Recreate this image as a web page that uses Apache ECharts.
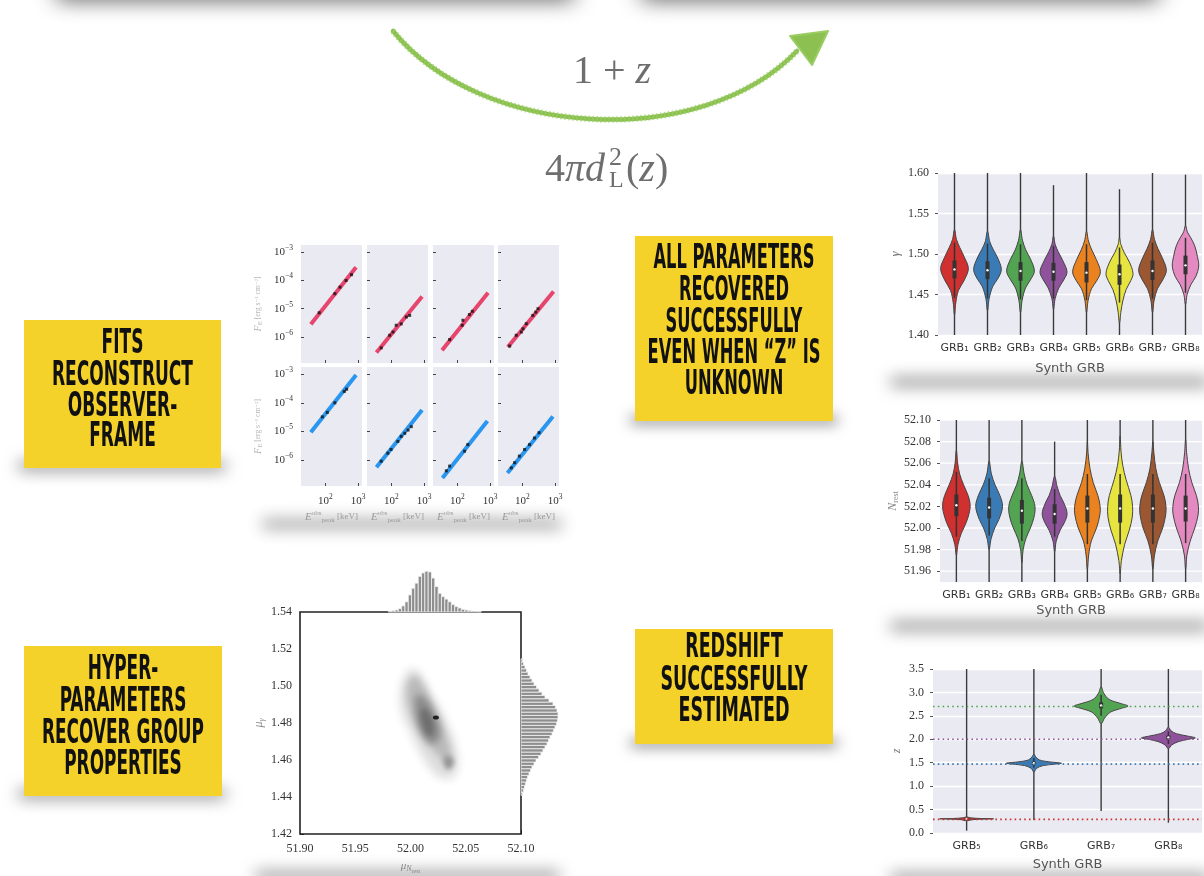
<!DOCTYPE html>
<html>
<head>
<meta charset="utf-8">
<script src="https://cdn.jsdelivr.net/npm/echarts@6/dist/echarts.min.js"></script>
<style>
html, body { margin: 0; padding: 0; background: #ffffff; }
#main { width: 1204px; height: 876px; }
</style>
</head>
<body>
<div id="main"></div>
<script>
// ---------------- data ----------------
// Observer-frame fits: fitted power law end points [E_peak (keV), F_E] per burst
const fitLines = [
  [[36, 2.8e-6], [870, 2.95e-4]],
  [[35, 2.8e-7], [870, 2.7e-5]],
  [[34, 3.4e-7], [870, 3.7e-5]],
  [[36, 4.4e-7], [900, 4.1e-5]],
  [[36, 9.3e-6], [870, 9.5e-4]],
  [[35, 5.5e-7], [870, 5.6e-5]],
  [[35, 2.3e-7], [830, 2.3e-5]],
  [[35, 3.4e-7], [860, 3.3e-5]]
];
// Observed pulses [E_peak (keV), F_E]
const fitPoints = [
  [[65, 7.2e-6], [195, 3.4e-5], [280, 5.8e-5], [430, 1.0e-4], [630, 1.6e-4]],
  [[49, 4.1e-7], [89, 1.15e-6], [112, 1.5e-6], [141, 2.6e-6], [200, 2.9e-6], [288, 5.1e-6], [363, 5.8e-6]],
  [[58, 8.1e-7], [141, 2.6e-6], [148, 3.9e-6], [234, 6.2e-6], [288, 8.1e-6]],
  [[41, 4.8e-7], [65, 1.15e-6], [93, 1.5e-6], [105, 1.95e-6], [132, 2.95e-6], [209, 5.8e-6], [257, 7.6e-6], [302, 1.0e-5]],
  [[81, 3.2e-5], [115, 4.6e-5], [195, 1.0e-4], [380, 2.5e-4], [447, 3.0e-4]],
  [[49, 8.9e-7], [78, 1.7e-6], [98, 2.3e-6], [158, 4.4e-6], [200, 6.6e-6], [257, 8.5e-6], [324, 1.1e-5], [407, 1.45e-5]],
  [[46, 4.1e-7], [58, 6.0e-7], [166, 2.0e-6], [209, 3.4e-6]],
  [[46, 5.2e-7], [58, 7.9e-7], [81, 1.35e-6], [117, 2.3e-6], [166, 3.4e-6], [234, 5.8e-6], [324, 8.9e-6]]
];
const fitXTicks = [100, 1000];
const fitYTicks = [1e-6, 1e-5, 1e-4, 1e-3];

// Posterior violins: categories
const grbNames = ['GRB\u2081', 'GRB\u2082', 'GRB\u2083', 'GRB\u2084', 'GRB\u2085', 'GRB\u2086', 'GRB\u2087', 'GRB\u2088'];
const zNames = ['GRB\u2085', 'GRB\u2086', 'GRB\u2087', 'GRB\u2088'];

// violin outlines: [value, half width as fraction of the category band]
const gammaKnots = [
  [[1.425,0],[1.44,0.04],[1.455,0.12],[1.468,0.30],[1.482,0.42],[1.496,0.30],[1.508,0.16],[1.518,0.06],[1.53,0]],
  [[1.43,0],[1.445,0.05],[1.46,0.16],[1.47,0.32],[1.481,0.42],[1.495,0.31],[1.505,0.18],[1.515,0.07],[1.528,0]],
  [[1.428,0],[1.443,0.05],[1.458,0.15],[1.468,0.30],[1.479,0.42],[1.494,0.30],[1.505,0.16],[1.517,0.06],[1.53,0]],
  [[1.432,0],[1.445,0.05],[1.458,0.16],[1.468,0.31],[1.478,0.41],[1.492,0.28],[1.503,0.14],[1.512,0.05],[1.522,0]],
  [[1.428,0],[1.443,0.05],[1.457,0.15],[1.467,0.31],[1.478,0.42],[1.493,0.30],[1.505,0.16],[1.516,0.06],[1.528,0]],
  [[1.415,0],[1.428,0.04],[1.442,0.10],[1.456,0.20],[1.467,0.34],[1.476,0.41],[1.49,0.30],[1.502,0.14],[1.512,0.04],[1.52,0]],
  [[1.428,0],[1.443,0.05],[1.457,0.15],[1.468,0.31],[1.48,0.42],[1.495,0.30],[1.507,0.16],[1.518,0.06],[1.53,0]],
  [[1.438,0],[1.45,0.05],[1.462,0.16],[1.472,0.31],[1.485,0.40],[1.497,0.36],[1.51,0.28],[1.52,0.16],[1.527,0.06],[1.535,0]]
];
// [min, whisker low, q1, median, q3, whisker high, max]
const gammaStats = [
  [1.40, 1.446, 1.470, 1.481, 1.492, 1.514, 1.60],
  [1.40, 1.445, 1.469, 1.480, 1.491, 1.513, 1.60],
  [1.40, 1.444, 1.467, 1.479, 1.490, 1.512, 1.60],
  [1.40, 1.445, 1.467, 1.478, 1.489, 1.510, 1.585],
  [1.40, 1.443, 1.465, 1.477, 1.490, 1.512, 1.60],
  [1.40, 1.440, 1.462, 1.475, 1.487, 1.508, 1.58],
  [1.40, 1.445, 1.468, 1.479, 1.492, 1.514, 1.60],
  [1.40, 1.452, 1.475, 1.486, 1.498, 1.520, 1.598]
];

const nrestKnots = [
  [[51.975,0],[51.985,0.05],[51.995,0.15],[52.005,0.30],[52.015,0.40],[52.022,0.42],[52.03,0.36],[52.04,0.22],[52.05,0.10],[52.06,0.04],[52.072,0]],
  [[51.98,0],[51.99,0.06],[52.0,0.17],[52.008,0.30],[52.02,0.41],[52.03,0.33],[52.04,0.18],[52.05,0.07],[52.062,0]],
  [[51.968,0],[51.98,0.04],[51.99,0.12],[52.0,0.26],[52.01,0.37],[52.02,0.40],[52.03,0.30],[52.04,0.16],[52.05,0.07],[52.062,0]],
  [[51.978,0],[51.988,0.05],[51.998,0.17],[52.005,0.30],[52.013,0.38],[52.022,0.30],[52.03,0.17],[52.038,0.08],[52.048,0]],
  [[51.962,0],[51.975,0.04],[51.988,0.12],[52.0,0.28],[52.012,0.38],[52.02,0.39],[52.03,0.32],[52.042,0.18],[52.055,0.08],[52.07,0.02],[52.08,0]],
  [[51.958,0],[51.97,0.04],[51.985,0.14],[51.998,0.28],[52.01,0.37],[52.02,0.38],[52.03,0.33],[52.045,0.18],[52.058,0.08],[52.07,0.03],[52.085,0]],
  [[51.962,0],[51.975,0.05],[51.988,0.15],[52.0,0.30],[52.012,0.39],[52.02,0.40],[52.03,0.34],[52.042,0.20],[52.055,0.09],[52.07,0.03],[52.08,0]],
  [[51.962,0],[51.975,0.04],[51.988,0.14],[52.0,0.28],[52.012,0.38],[52.02,0.39],[52.03,0.33],[52.042,0.19],[52.055,0.09],[52.07,0.03],[52.082,0]]
];
const nrestStats = [
  [51.95, 51.992, 52.011, 52.021, 52.031, 52.052, 52.10],
  [51.95, 51.993, 52.009, 52.019, 52.028, 52.046, 52.10],
  [51.95, 51.988, 52.004, 52.016, 52.026, 52.046, 52.10],
  [51.95, 51.992, 52.004, 52.013, 52.022, 52.036, 52.08],
  [51.95, 51.985, 52.005, 52.018, 52.030, 52.050, 52.10],
  [51.95, 51.985, 52.005, 52.018, 52.031, 52.050, 52.10],
  [51.95, 51.985, 52.005, 52.018, 52.031, 52.050, 52.10],
  [51.95, 51.986, 52.006, 52.018, 52.030, 52.050, 52.10]
];
const nrestTicks = [51.96, 51.98, 52.00, 52.02, 52.04, 52.06, 52.08, 52.10];

const zKnots = [
  [[0.26,0],[0.285,0.08],[0.298,0.30],[0.303,0.40],[0.31,0.20],[0.325,0.05],[0.345,0]],
  [[1.30,0],[1.38,0.04],[1.44,0.14],[1.47,0.32],[1.49,0.41],[1.52,0.22],[1.56,0.08],[1.62,0.03],[1.68,0]],
  [[2.33,0],[2.45,0.05],[2.58,0.14],[2.66,0.30],[2.71,0.40],[2.76,0.30],[2.85,0.12],[2.98,0.04],[3.12,0]],
  [[1.80,0],[1.88,0.05],[1.95,0.15],[2.0,0.30],[2.03,0.40],[2.07,0.28],[2.12,0.12],[2.18,0.04],[2.26,0]]
];
const zStats = [
  [0.05, 0.28, 0.295, 0.30, 0.31, 0.33, 3.5],
  [0.28, 1.40, 1.46, 1.49, 1.52, 1.60, 3.5],
  [0.47, 2.50, 2.66, 2.72, 2.79, 2.95, 3.5],
  [0.22, 1.90, 2.00, 2.04, 2.08, 2.17, 3.5]
];
const zTrue = [0.29, 1.47, 2.70, 2.00];

// Hyper-parameter posterior: density contour outlines [mu_N, mu_gamma], light to dark
const hexContours = [
  [[51.9967,1.5076],[52.0057,1.5085],[52.0178,1.4968],[52.0314,1.4823],[52.0419,1.4643],[52.0404,1.4517],[52.0299,1.4499],[52.0178,1.4553],[51.9997,1.4751],[51.9906,1.4913]],
  [[52.0012,1.5049],[52.0072,1.5040],[52.0208,1.4895],[52.0299,1.4769],[52.0374,1.4607],[52.0344,1.4571],[52.0253,1.4625],[52.0117,1.4715],[52.0012,1.4841],[51.9966,1.4968]],
  [[52.0057,1.4950],[52.0133,1.4932],[52.0223,1.4841],[52.0268,1.4751],[52.0238,1.4697],[52.0163,1.4697],[52.0072,1.4787],[52.0042,1.4877]],
  [[52.0102,1.4877],[52.0163,1.4859],[52.0208,1.4787],[52.0193,1.4733],[52.0148,1.4742],[52.0102,1.4805]],
  [[52.031,1.4615],[52.037,1.4615],[52.0385,1.4575],[52.0335,1.4550],[52.0305,1.4580]]
];
const trueHyper = [52.023, 1.483];
// marginal histograms
const topHistStart = 51.980, topHistWidth = 0.003;
const topHistCounts = [18,33,50,83,150,250,418,583,708,875,958,1000,983,833,625,458,375,317,250,183,133,100,67,50,33,25,18,8];
const rightHistStart = 1.4409, rightHistWidth = 0.0018;
const rightHistCounts = [38,63,88,113,138,163,200,238,275,325,375,438,500,550,600,650,688,725,775,813,850,888,913,925,925,900,863,800,700,600,525,450,388,325,275,225,175,138,100,63,38];

// ---------------- styling ----------------
const SERIF = '"Liberation Serif", "DejaVu Serif", serif';
const SANS = '"DejaVu Sans", "Liberation Sans", sans-serif';
const COND = '"Liberation Sans Narrow", "DejaVu Sans Condensed", "Liberation Sans", sans-serif';
const BG = '#EAEAF2';
const palette8 = ['#D0302F', '#3B7BB5', '#52A452', '#8E539B', '#EA8220', '#E8E43F', '#9B5632', '#E58AC0'];
const palette4 = ['#D0302F', '#3B7BB5', '#52A452', '#8E539B'];
const hexShades = ['#dedede', '#b9b9b9', '#8d8d8d', '#6f6f6f', '#949494'];
const hexBlur = [10, 7, 6, 5, 5];
const SHIFT = 3000; // offset used to draw only the blurred shadow of a shape

const grids = [], xAxes = [], yAxes = [], series = [];

function supLabel(v) {
  const e = Math.round(Math.log10(v));
  return '{b|10}{s|' + String(e).replace('-', '\u2212') + '}';
}
const powRich = {
  b: { fontFamily: SERIF, fontSize: 11, color: '#333' },
  s: { fontFamily: SERIF, fontSize: 7.5, color: '#333', padding: [0, 0, 8, 0] }
};

// ---- observer-frame fit panels ----
const fitCols = [301, 367, 433, 498];
const fitRows = [[245, 118], [367, 119]];
for (let i = 0; i < 8; i++) {
  const r = Math.floor(i / 4), c = i % 4;
  grids.push({ left: fitCols[c], top: fitRows[r][0], width: 61, height: fitRows[r][1],
    show: true, backgroundColor: BG, borderWidth: 0, containLabel: false, outerBoundsMode: 'none' });
  xAxes.push({
    gridIndex: i, type: 'log', min: 18, max: 1320,
    axisLine: { show: false }, splitLine: { show: false },
    axisTick: { show: true, inside: true, length: 3, lineStyle: { color: '#444' }, customValues: fitXTicks },
    axisLabel: { show: r === 1, customValues: fitXTicks, formatter: supLabel, rich: powRich, margin: 7 },
    name: r === 1 ? '{e|E}{u|obs}{d|peak}{k| [keV]}' : '',
    nameLocation: 'middle', nameGap: 24,
    nameTextStyle: { rich: {
      e: { fontFamily: SERIF, fontStyle: 'italic', fontSize: 11, color: '#9a9a9a' },
      u: { fontFamily: SERIF, fontSize: 7, color: '#9a9a9a', padding: [0, 0, 7, 0] },
      d: { fontFamily: SERIF, fontSize: 7, color: '#9a9a9a', padding: [6, 0, 0, 0] },
      k: { fontFamily: SERIF, fontSize: 9, color: '#9a9a9a' } } }
  });
  yAxes.push({
    gridIndex: i, type: 'log', min: 1.2e-7, max: 1.8e-3,
    axisLine: { show: false }, splitLine: { show: false },
    axisTick: { show: true, inside: true, length: 3, lineStyle: { color: '#444' }, customValues: fitYTicks },
    axisLabel: { show: c === 0, customValues: fitYTicks, formatter: supLabel, rich: powRich, margin: 8 },
    name: c === 0 ? '{f|F}{d|E}{k| [erg s\u207B\u00B9 cm\u207B\u00B2]}' : '',
    nameLocation: 'middle', nameGap: 37, nameRotate: 90,
    nameTextStyle: { rich: {
      f: { fontFamily: SERIF, fontStyle: 'italic', fontSize: 10, color: '#b8b8b8' },
      d: { fontFamily: SERIF, fontSize: 7, color: '#b8b8b8', padding: [5, 0, 0, 0] },
      k: { fontFamily: SERIF, fontSize: 7.5, color: '#b8b8b8' } } }
  });
  const col = r === 0 ? '#E6466E' : '#2996F0';
  series.push({ type: 'line', xAxisIndex: i, yAxisIndex: i, data: fitLines[i], showSymbol: false,
    lineStyle: { width: 4, color: col }, silent: true, z: 3 });
  series.push({ type: 'scatter', xAxisIndex: i, yAxisIndex: i, data: fitPoints[i], symbol: 'rect',
    symbolSize: [3, 3], itemStyle: { color: '#111' }, silent: true, z: 4 });
}

// ---- violin panels ----
function violinAxes(gi, names, yOpt, box) {
  grids.push({ left: box[0], top: box[1], width: box[2], height: box[3], show: true,
    backgroundColor: BG, borderWidth: 0, containLabel: false, outerBoundsMode: 'none' });
  xAxes.push({
    gridIndex: gi, type: 'category', data: names, boundaryGap: true,
    axisLine: { show: false }, axisTick: { show: false }, splitLine: { show: false },
    axisLabel: { interval: 0, fontFamily: SANS, fontSize: 11, color: '#333', margin: 8 },
    name: 'Synth GRB', nameLocation: 'middle', nameGap: box[4],
    nameTextStyle: { fontFamily: SANS, fontSize: 13, color: '#555' }
  });
  yAxes.push(Object.assign({
    gridIndex: gi, type: 'value', axisLine: { show: false },
    axisTick: { show: true, length: 3, lineStyle: { color: '#555' } },
    splitLine: { show: true, lineStyle: { color: '#ffffff', width: 1.3 } },
    nameLocation: 'middle', nameRotate: 90
  }, yOpt));
}

function violinSeries(gi, knots, stats, colors, bodyStroke) {
  return {
    type: 'custom', xAxisIndex: gi, yAxisIndex: gi, silent: true, z: 4,
    data: knots.map((k, i) => [i, k[0][0]]),
    renderItem: function (params, api) {
      const i = api.value(0);
      const band = api.size([1, 0])[0];
      const cx = api.coord([i, knots[i][0][0]])[0];
      const py = v => api.coord([i, v])[1];
      const k = knots[i];
      const s = stats[i];
      const right = k.map(p => [cx + p[1] * band, py(p[0])]);
      const left = k.slice(1, -1).reverse().map(p => [cx - p[1] * band, py(p[0])]);
      return {
        type: 'group',
        children: [
          { type: 'line', shape: { x1: cx, y1: py(s[0]), x2: cx, y2: py(s[6]) },
            style: { stroke: '#3b3b3b', lineWidth: 1.4 } },
          { type: 'polygon', shape: { points: right.concat(left), smooth: 0.35 },
            style: { fill: colors[i], stroke: bodyStroke, lineWidth: 1 } },
          { type: 'line', shape: { x1: cx, y1: py(s[1]), x2: cx, y2: py(s[5]) },
            style: { stroke: '#333', lineWidth: 1.5 } },
          { type: 'rect', shape: { x: cx - 2, y: py(s[4]), width: 4, height: Math.max(1, py(s[2]) - py(s[4])) },
            style: { fill: '#333' } },
          { type: 'circle', shape: { cx: cx, cy: py(s[3]), r: 1.2 }, style: { fill: '#fff' } }
        ]
      };
    }
  };
}

// gamma panel (grid 8)
violinAxes(8, grbNames, {
  min: 1.40, max: 1.60, interval: 0.05,
  axisLabel: { formatter: v => v.toFixed(2), fontFamily: SERIF, fontSize: 12, color: '#333', margin: 9 },
  name: '\u03B3', nameGap: 36, nameTextStyle: { fontFamily: SERIF, fontStyle: 'italic', fontSize: 13, color: '#777' }
}, [938, 173, 264, 162, 27]);
series.push(violinSeries(8, gammaKnots, gammaStats, palette8, '#444'));

// N_rest panel (grid 9): ticks at even hundredths, drawn from nrestTicks
violinAxes(9, grbNames, {
  min: 51.95, max: 52.10,
  axisTick: { show: true, length: 3, lineStyle: { color: '#555' }, customValues: nrestTicks },
  axisLabel: { customValues: nrestTicks, formatter: v => v.toFixed(2), fontFamily: SERIF, fontSize: 12, color: '#333', margin: 9 },
  splitLine: { show: false },
  name: '{n|N}{s|rest}', nameGap: 40,
  nameTextStyle: { rich: {
    n: { fontFamily: SERIF, fontStyle: 'italic', fontSize: 12, color: '#888' },
    s: { fontFamily: SERIF, fontSize: 8, color: '#888', padding: [6, 0, 0, 0] } } }
}, [940, 420, 262, 162, 22]);
series.push({
  type: 'custom', xAxisIndex: 9, yAxisIndex: 9, silent: true, z: 1,
  data: nrestTicks.map(v => [0, v]),
  renderItem: function (params, api) {
    const cs = params.coordSys;
    const y = api.coord([0, api.value(1)])[1];
    return { type: 'line', shape: { x1: cs.x, y1: y, x2: cs.x + cs.width, y2: y },
      style: { stroke: '#ffffff', lineWidth: 1.3 } };
  }
});
series.push(violinSeries(9, nrestKnots, nrestStats, palette8, '#444'));

// redshift panel (grid 10)
violinAxes(10, zNames, {
  min: 0, max: 3.5, interval: 0.5,
  axisLabel: { formatter: v => v.toFixed(1), fontFamily: SERIF, fontSize: 12, color: '#333', margin: 9 },
  name: 'z', nameGap: 30, nameTextStyle: { fontFamily: SERIF, fontStyle: 'italic', fontSize: 12, color: '#777' }
}, [933, 669, 269, 164, 25]);
series.push(violinSeries(10, zKnots, zStats, palette4, '#444'));
series.push({
  type: 'custom', xAxisIndex: 10, yAxisIndex: 10, silent: true, z: 5,
  data: zTrue.map((v, i) => [i, v]),
  renderItem: function (params, api) {
    const cs = params.coordSys;
    const y = api.coord([api.value(0), api.value(1)])[1];
    return { type: 'line', shape: { x1: cs.x, y1: y, x2: cs.x + cs.width, y2: y },
      style: { stroke: palette4[params.dataIndex], lineWidth: 1.6, lineDash: [1.6, 3.2] } };
  }
});

// ---- hyper-parameter joint posterior (grid 11) + marginals (12, 13) ----
grids.push({ left: 300, top: 612, width: 221, height: 222, show: true, backgroundColor: '#fff',
  borderColor: '#222', borderWidth: 1.6, containLabel: false, outerBoundsMode: 'none', z: 1 });
xAxes.push({
  gridIndex: 11, type: 'value', min: 51.90, max: 52.10, interval: 0.05,
  axisLine: { show: false }, splitLine: { show: false },
  axisTick: { show: true, inside: true, length: 4, lineStyle: { color: '#222' } },
  axisLabel: { formatter: v => v.toFixed(2), fontFamily: SERIF, fontSize: 12, color: '#333', margin: 9 },
  name: '{m|\u03BC}{n|N}{s|rest}', nameLocation: 'middle', nameGap: 25,
  nameTextStyle: { rich: {
    m: { fontFamily: SERIF, fontStyle: 'italic', fontSize: 11, color: '#888' },
    n: { fontFamily: SERIF, fontStyle: 'italic', fontSize: 8, color: '#888', padding: [5, 0, 0, 0] },
    s: { fontFamily: SERIF, fontSize: 6, color: '#888', padding: [9, 0, 0, 0] } } }
});
yAxes.push({
  gridIndex: 11, type: 'value', min: 1.42, max: 1.54, interval: 0.02,
  axisLine: { show: false }, splitLine: { show: false },
  axisTick: { show: true, inside: true, length: 4, lineStyle: { color: '#222' } },
  axisLabel: { formatter: v => v.toFixed(2), fontFamily: SERIF, fontSize: 12, color: '#333', margin: 8 },
  name: '{m|\u03BC}{g|\u03B3}', nameLocation: 'middle', nameRotate: 90, nameGap: 34,
  nameTextStyle: { rich: {
    m: { fontFamily: SERIF, fontStyle: 'italic', fontSize: 12, color: '#888' },
    g: { fontFamily: SERIF, fontStyle: 'italic', fontSize: 8, color: '#888', padding: [6, 0, 0, 0] } } }
});
// density levels drawn as soft (blurred) regions
series.push({
  type: 'custom', xAxisIndex: 11, yAxisIndex: 11, silent: true, z: 3, clip: false,
  data: hexContours.map((c, i) => [c[0][0], c[0][1], i]),
  renderItem: function (params, api) {
    const i = api.value(2);
    const pts = hexContours[i].map(p => { const q = api.coord(p); return [q[0], q[1] - SHIFT]; });
    return { type: 'polygon', shape: { points: pts, smooth: 0.45 },
      style: { fill: hexShades[i], shadowBlur: hexBlur[i], shadowOffsetY: SHIFT, shadowColor: hexShades[i] } };
  }
});
series.push({ type: 'scatter', xAxisIndex: 11, yAxisIndex: 11, data: [trueHyper], symbol: 'circle',
  symbolSize: [6, 4], itemStyle: { color: '#000' }, silent: true, z: 6 });

grids.push({ left: 300, top: 570, width: 221, height: 42, containLabel: false, outerBoundsMode: 'none' });
xAxes.push({ gridIndex: 12, type: 'value', min: 51.90, max: 52.10, show: false });
yAxes.push({ gridIndex: 12, type: 'value', min: 0, max: 1030, show: false });
series.push({
  type: 'custom', xAxisIndex: 12, yAxisIndex: 12, silent: true, z: 3,
  data: topHistCounts.map((c, i) => [topHistStart + i * topHistWidth, c]),
  renderItem: function (params, api) {
    const a = api.coord([api.value(0), 0]);
    const b = api.coord([api.value(0) + topHistWidth, api.value(1)]);
    return { type: 'rect', shape: { x: a[0], y: b[1], width: b[0] - a[0], height: a[1] - b[1] },
      style: { fill: '#8e8e8e', stroke: '#f4f4f4', lineWidth: 0.8 } };
  }
});

grids.push({ left: 521, top: 612, width: 40, height: 222, containLabel: false, outerBoundsMode: 'none' });
xAxes.push({ gridIndex: 13, type: 'value', min: 0, max: 1000, show: false });
yAxes.push({ gridIndex: 13, type: 'value', min: 1.42, max: 1.54, show: false });
series.push({
  type: 'custom', xAxisIndex: 13, yAxisIndex: 13, silent: true, z: 3,
  data: rightHistCounts.map((c, i) => [c, rightHistStart + i * rightHistWidth]),
  renderItem: function (params, api) {
    const a = api.coord([0, api.value(1)]);
    const b = api.coord([api.value(0), api.value(1) + rightHistWidth]);
    return { type: 'rect', shape: { x: a[0], y: b[1], width: b[0] - a[0], height: a[1] - b[1] },
      style: { fill: '#8e8e8e', stroke: '#f4f4f4', lineWidth: 0.8 } };
  }
});

// ---------------- slide decorations ----------------
const graphic = [];
function dropShadow(x, y, w, h, blur, alpha) {
  graphic.push({ type: 'rect', silent: true, z: 0, shape: { x: x, y: y - SHIFT, width: w, height: h, r: h / 2 },
    style: { fill: '#000', shadowBlur: blur, shadowOffsetY: SHIFT, shadowColor: 'rgba(0,0,0,' + alpha + ')' } });
}
dropShadow(55, -16, 520, 14, 22, 0.85);
dropShadow(640, -16, 520, 14, 22, 0.85);
dropShadow(18, 462, 208, 8, 16, 0.55);
dropShadow(630, 416, 208, 8, 14, 0.5);
dropShadow(630, 739, 208, 8, 14, 0.5);
dropShadow(18, 790, 208, 8, 16, 0.55);
dropShadow(262, 520, 300, 8, 16, 0.45);
dropShadow(890, 378, 320, 8, 16, 0.5);
dropShadow(890, 622, 320, 8, 16, 0.5);
dropShadow(890, 874, 320, 8, 16, 0.5);
dropShadow(255, 872, 305, 8, 16, 0.5);

// yellow captions
const measure = document.createElement('canvas').getContext('2d');
const CAP_FONT = 'bold 33px ' + COND;
measure.font = CAP_FONT;
function caption(x, y, w, h, lines, ys, targetWidth) {
  graphic.push({ type: 'rect', silent: true, z: 10, shape: { x: x, y: y, width: w, height: h },
    style: { fill: '#F5D22A' } });
  const widest = Math.max.apply(null, lines.map(l => measure.measureText(l).width));
  const sx = targetWidth / widest;
  lines.forEach((l, k) => {
    graphic.push({ type: 'text', silent: true, z: 11, x: x + w / 2, y: ys[k], scaleX: sx,
      style: { text: l, font: CAP_FONT, fill: '#111', align: 'center', verticalAlign: 'middle' } });
  });
}
caption(24, 320, 197, 148, ['FITS', 'RECONSTRUCT', 'OBSERVER-', 'FRAME'], [344, 376, 407, 437], 141);
caption(635, 236, 198, 185, ['ALL PARAMETERS', 'RECOVERED', 'SUCCESSFULLY', 'EVEN WHEN \u201CZ\u201D IS', 'UNKNOWN'],
  [259, 291, 323, 354, 385], 173);
caption(24, 646, 198, 150, ['HYPER-', 'PARAMETERS', 'RECOVER GROUP', 'PROPERTIES'], [670, 702, 734, 765], 162);
caption(635, 629, 198, 115, ['REDSHIFT', 'SUCCESSFULLY', 'ESTIMATED'], [648, 681, 712], 147);

// green arrow with the redshift factors
graphic.push({ type: 'bezierCurve', silent: true, z: 5,
  shape: { x1: 393, y1: 31, cpx1: 480, cpy1: 138, cpx2: 700, cpy2: 152, x2: 797, y2: 51 },
  style: { stroke: '#8CC152', lineWidth: 4.5, fill: null, lineCap: 'round' } });
graphic.push({ type: 'bezierCurve', silent: true, z: 5,
  shape: { x1: 393, y1: 31, cpx1: 480, cpy1: 138, cpx2: 700, cpy2: 152, x2: 797, y2: 51 },
  style: { stroke: '#9ACD63', lineWidth: 6.5, fill: null, lineDash: [1.5, 2.5], opacity: 0.7 } });
graphic.push({ type: 'polygon', silent: true, z: 5,
  shape: { points: [[790, 36], [828, 31], [812, 65]] },
  style: { fill: '#8CC152', stroke: '#9ACD63', lineWidth: 2, lineJoin: 'round' } });

graphic.push({ type: 'text', silent: true, z: 6, x: 612, y: 72,
  style: { text: '{n|1 + }{i|z}', align: 'center', verticalAlign: 'middle',
    rich: { n: { fontFamily: SERIF, fontSize: 40, fill: '#6e6e6e' },
            i: { fontFamily: SERIF, fontStyle: 'italic', fontSize: 40, fill: '#6e6e6e' } } } });
graphic.push({ type: 'text', silent: true, z: 6, x: 545, y: 170,
  style: { text: '{n|4}{i|\u03C0d}', align: 'left', verticalAlign: 'middle',
    rich: { n: { fontFamily: SERIF, fontSize: 40, fill: '#6e6e6e' },
            i: { fontFamily: SERIF, fontStyle: 'italic', fontSize: 40, fill: '#6e6e6e' } } } });
graphic.push({ type: 'text', silent: true, z: 6, x: 609, y: 158,
  style: { text: '2', font: '26px ' + SERIF, fill: '#6e6e6e', align: 'left', verticalAlign: 'middle' } });
graphic.push({ type: 'text', silent: true, z: 6, x: 609, y: 181,
  style: { text: 'L', font: '24px ' + SERIF, fill: '#6e6e6e', align: 'left', verticalAlign: 'middle' } });
graphic.push({ type: 'text', silent: true, z: 6, x: 626, y: 170,
  style: { text: '{n|(}{i|z}{n|)}', align: 'left', verticalAlign: 'middle',
    rich: { n: { fontFamily: SERIF, fontSize: 40, fill: '#6e6e6e' },
            i: { fontFamily: SERIF, fontStyle: 'italic', fontSize: 40, fill: '#6e6e6e' } } } });

const chart = echarts.init(document.getElementById('main'), null, { renderer: 'canvas' });
chart.setOption({
  animation: false,
  backgroundColor: '#ffffff',
  grid: grids,
  xAxis: xAxes,
  yAxis: yAxes,
  series: series,
  graphic: graphic
});
</script>
</body>
</html>
